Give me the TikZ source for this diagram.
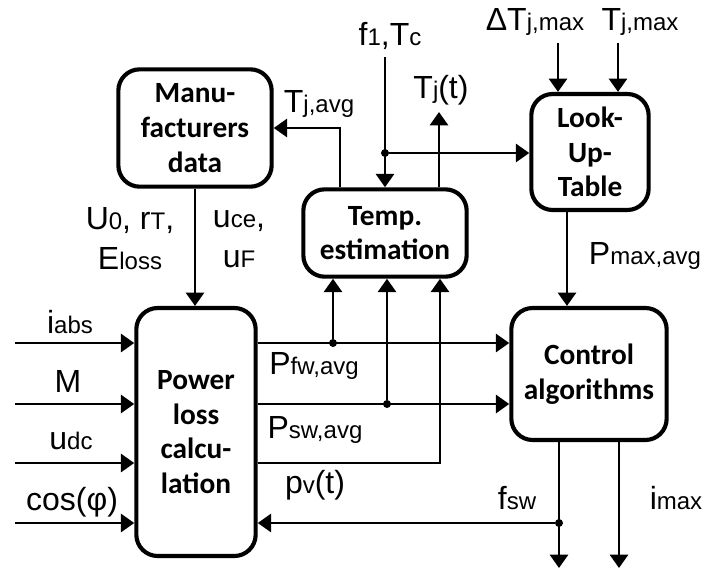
\documentclass[tikz,border=0pt]{standalone}
\usepackage{fontspec}
\setmainfont{Liberation Sans}
\newfontfamily\blockfont{Carlito}
\usetikzlibrary{arrows.meta}
\newcommand{\idx}[1]{{\fontsize{18}{18}\selectfont #1}}
\tikzset{
  block/.style={draw, line width=3.1pt, rounded corners=16pt, align=center, inner sep=0pt,
    font=\blockfont\bfseries\fontsize{22}{26}\selectfont},
  sig/.style={line width=2.1pt, -{Triangle[length=10pt,width=13.5pt]}},
  lbl/.style={inner sep=0pt, align=center, font=\fontsize{24}{30}\selectfont},
  jdot/.style={circle, fill, inner sep=0pt, minimum size=6pt},
}
\begin{document}
\begin{tikzpicture}[x=0.75pt, y=-0.75pt]
                \useasboundingbox (0,0) rectangle (704,572);
                % blocks
                \node[block, minimum width=115pt, minimum height=88pt] (manu) at (195,128) {Manu-\\facturers\\data};
                \node[block, minimum width=122.5pt, minimum height=65.5pt] (temp) at (385,233) {Temp.\\estimation};
                \node[block, minimum width=88pt, minimum height=87pt] (lut) at (590,152) {Look-\\Up-\\Table};
                \node[block, minimum width=89.5pt, minimum height=186pt] (power) at (196,432) {Power\\loss\\calcu-\\lation};
                \node[block, minimum width=116.5pt, minimum height=99pt] (control) at (589,374) {Control\\algorithms};
                % points
                \coordinate (in1) at (15,343);
                \coordinate (in2) at (15,404);
                \coordinate (in3) at (15,463);
                \coordinate (in4) at (15,523);
                \node[jdot] (pfw) at (333,343) {};
                \node[jdot] (psw) at (387,404) {};
                \coordinate (pv) at (440,463);
                \node[jdot] (fsw) at (559,523) {};
                \coordinate (fswend) at (559,568);
                \coordinate (imaxend) at (619,568);
                \coordinate (tavg) at (340,128);
                \coordinate (ftop) at (385,57);
                \node[jdot] (fdot) at (385,153) {};
                \coordinate (tjend) at (439,112);
                \coordinate (dtop) at (558,43);
                \coordinate (ttop) at (618,43);
                % labels
                \node[lbl] (iabs) at (70,322) {i\idx{abs}};
                \node[lbl] (m) at (68,381) {M};
                \node[lbl] (udc) at (71,441) {u\idx{dc}};
                \node[lbl] (cosphi) at (72,502) {cos(φ)};
                \node[lbl] (u0) at (130,239) {U\idx{0}, r\idx{T},\\E\idx{loss}};
                \node[lbl] (uce) at (239,239) {u\idx{ce},\\u\idx{F}};
                \node[lbl] (tjavg) at (319,104) {T\idx{j,avg}};
                \node[lbl] (f1tc) at (390,36) {f\idx{1},T\idx{c}};
                \node[lbl] (tjt) at (441,90) {T\idx{j}(t)};
                \node[lbl] (dtjmax) at (535,22) {ΔT\idx{j,max}};
                \node[lbl] (tjmax) at (640,22) {T\idx{j,max}};
                \node[lbl] (pmax) at (645,256) {P\idx{max,avg}};
                \node[lbl] (pfwlbl) at (314,366) {P\idx{fw,avg}};
                \node[lbl] (pswlbl) at (315,430) {P\idx{sw,avg}};
                \node[lbl] (pvlbl) at (315,485) {p\idx{v}(t)};
                \node[lbl] (fswlbl) at (517,498) {f\idx{sw}};
                \node[lbl] (imaxlbl) at (676,498) {i\idx{max}};
                % edges
                \draw[sig] (manu.south) -- (manu.south |- power.north);
                \foreach \n in {in1,in2,in3,in4}
                  \draw[sig] (\n) -- (\n -| power.west);
                \draw[sig] (pfw -| power.east) -- (pfw -| control.west);
                \draw[sig] (pfw) -- (pfw |- temp.south);
                \draw[sig] (psw -| power.east) -- (psw -| control.west);
                \draw[sig] (psw) -- (psw |- temp.south);
                \draw[sig] (pv -| power.east) -- (pv) -- (pv |- temp.south);
                \draw[sig] (fsw) -- (fsw -| power.east);
                \draw[sig] (fsw |- control.south) -- (fswend);
                \draw[sig] (imaxend |- control.south) -- (imaxend);
                \draw[sig] (tavg |- temp.north) -- (tavg) -- (tavg -| manu.east);
                \draw[sig] (ftop) -- (ftop |- temp.north);
                \draw[sig] (fdot) -- (fdot -| lut.west);
                \draw[sig] (tjend |- temp.north) -- (tjend);
                \draw[sig] (dtop) -- (dtop |- lut.north);
                \draw[sig] (ttop) -- (ttop |- lut.north);
                \draw[sig] (567,0 |- lut.south) -- (567,0 |- control.north);
            \end{tikzpicture}
\end{document}
